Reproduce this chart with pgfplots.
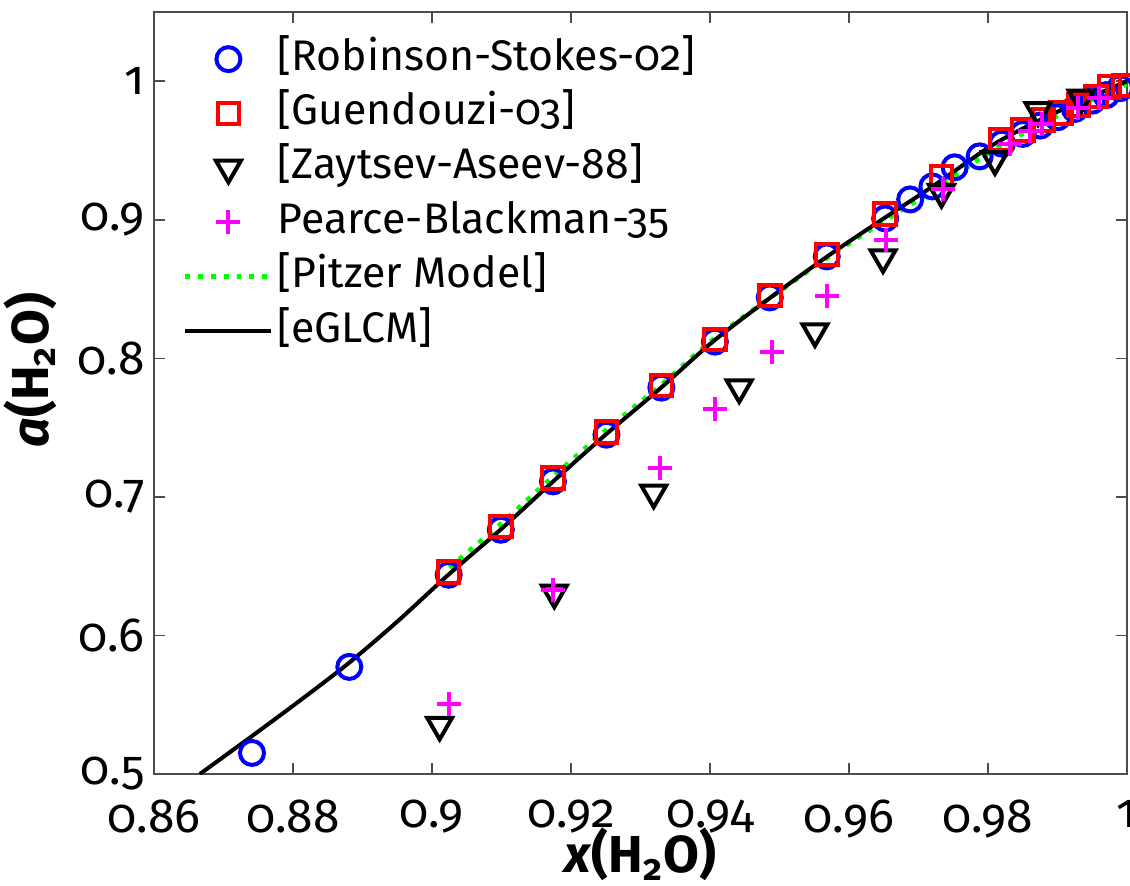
\documentclass[border=0pt]{standalone}
\usepackage{fontspec}
\setmainfont[Numbers=OldStyle]{Fira Sans}
\usepackage{pgfplots}
\pgfplotsset{compat=1.18}
\definecolor{mblue}{RGB}{0,0,255}
\definecolor{mred}{RGB}{255,0,0}
\definecolor{mmag}{RGB}{255,0,255}
\definecolor{mgreen}{RGB}{0,255,0}
\pgfplotsset{myleg/.style={legend image code/.code={%
  \draw[mark repeat=2,mark phase=2,##1] plot coordinates {(0pt,0pt) (10.75pt,0pt) (21.5pt,0pt)};}}}

\begin{document}
\begin{tikzpicture}
\begin{axis}[
  scale only axis, width=243.25pt, height=190.5pt,
  xmin=0.86, xmax=1, ymin=0.5, ymax=1.05,
  xtick={0.86,0.88,0.9,0.92,0.94,0.96,0.98,1},
  ytick={0.5,0.6,0.7,0.8,0.9,1},
  tick align=inside, major tick length=2.75pt,
  axis line style={black!70, line width=0.5pt},
  every tick/.style={black!70, line width=0.4pt},
  /pgf/number format/assume math mode=true,
  ticklabel style={font=\fontsize{12}{14}\selectfont},
  xticklabel style={yshift=-3pt},
  yticklabel style={xshift=1.25pt},
  xlabel={\textbf{\textit{x}(H\textsubscript{2}O)}},
  ylabel={\textbf{\textit{a}(H\textsubscript{2}O)}},
  label style={font=\fontsize{13}{15}\selectfont},
  xlabel style={at={(axis description cs:0.5,-0.106)}, anchor=center},
  ylabel style={at={(axis description cs:-0.127,0.53)}, anchor=center},
  legend cell align=left,
  legend style={draw=none, fill=none, at={(rel axis cs:0.029,0.972)}, anchor=north west,
    font=\fontsize{10.7}{12}\selectfont, inner sep=0pt, row sep=1.1pt,
    nodes={inner sep=1pt, text height=8pt, text depth=2.5pt}},
  myleg,
]
% Robinson-Stokes circles
\addplot[only marks, mark=o, mark size=3pt, mblue, line width=1pt, myleg] coordinates {
  (0.8741,0.5152) (0.8881,0.5773) (0.9024,0.6438) (0.9099,0.6763) (0.9174,0.7112)
  (0.9251,0.7449) (0.9330,0.7789) (0.9407,0.8121) (0.9486,0.8440) (0.9568,0.8736)
  (0.9652,0.9010) (0.9688,0.9147) (0.9720,0.9241) (0.9752,0.9379) (0.9788,0.9458)
  (0.9820,0.9550) (0.9850,0.9620) (0.9875,0.9680) (0.9900,0.9740) (0.9925,0.9800)
  (0.9950,0.9860) (0.9970,0.9900) (0.9990,0.9950)
};
\addlegendentry{[Robinson-Stokes-02]}
% Guendouzi squares
\addplot[only marks, mark=square, mark size=2.7pt, mred, line width=1pt, myleg] coordinates {
  (0.9024,0.6460) (0.9099,0.6785) (0.9174,0.7135) (0.9251,0.7470) (0.9330,0.7805)
  (0.9407,0.8135) (0.9486,0.8455) (0.9568,0.8750) (0.9652,0.9040) (0.9733,0.9310)
  (0.9818,0.9580) (0.9850,0.9650) (0.9880,0.9720) (0.9905,0.9770) (0.9930,0.9830)
  (0.9955,0.9890) (0.9975,0.9960) (0.9995,0.9970)
};
\addlegendentry{[Guendouzi-03]}
% Zaytsev-Aseev triangles
\addplot[only marks, mark=triangle, mark size=3.6pt, mark options={rotate=180}, black, line width=1pt, myleg] coordinates {
  (0.9011,0.5354) (0.9176,0.6308) (0.9319,0.7030) (0.9442,0.7789) (0.9551,0.8194)
  (0.9649,0.8728) (0.9733,0.9200) (0.9810,0.9436) (0.9872,0.9790) (0.9934,0.9880)
};
\addlegendentry{[Zaytsev-Aseev-88]}
% Pearce-Blackman pluses
\addplot[only marks, mark=+, mark size=3pt, mmag, line width=1pt, myleg] coordinates {
  (0.9024,0.5506) (0.9174,0.6329) (0.9328,0.7211) (0.9407,0.7637) (0.9489,0.8049)
  (0.9568,0.8447) (0.9653,0.8851) (0.9735,0.9220) (0.9831,0.9545) (0.9860,0.9640)
  (0.9877,0.9690) (0.9930,0.9810) (0.9960,0.9880)
};
\addlegendentry{Pearce-Blackman-35}
% Pitzer model
\addplot[mgreen, dotted, line width=1.2pt, smooth] coordinates {
  (0.9025,0.649) (0.910,0.681) (0.9174,0.7145) (0.925,0.748) (0.933,0.781)
  (0.9404,0.8135) (0.949,0.845) (0.957,0.873) (0.965,0.899) (0.972,0.921)
  (0.981,0.951) (0.990,0.975) (1.0,0.998)
};
\addlegendentry{[Pitzer Model]}
% eGLCM
\addplot[black, line width=1pt, smooth] coordinates {
  (0.8666,0.500) (0.874,0.527) (0.881,0.553) (0.888,0.580) (0.895,0.610)
  (0.9024,0.644) (0.910,0.677) (0.9174,0.711) (0.925,0.745) (0.933,0.779)
  (0.9404,0.812) (0.949,0.845) (0.957,0.874) (0.965,0.901) (0.972,0.924)
  (0.981,0.955) (0.990,0.978) (1.0,1.0)
};
\addlegendentry{[eGLCM]}
\coordinate (sw) at (rel axis cs:0,0);
\coordinate (ne) at (rel axis cs:1,1);
\end{axis}
\pgfresetboundingbox
\path[use as bounding box] ([xshift=-38.5pt,yshift=-27.75pt]sw) rectangle ([xshift=0.75pt,yshift=3pt]ne);
\end{tikzpicture}
\end{document}
